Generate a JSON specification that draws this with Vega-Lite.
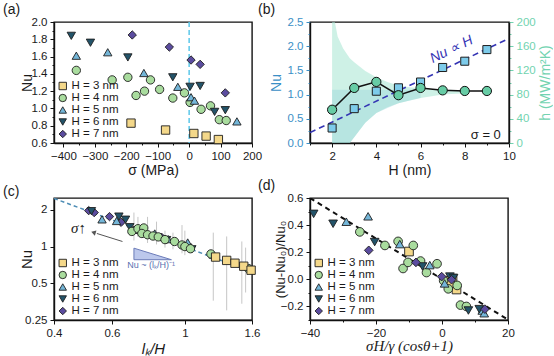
{
"$schema":"https://vega.github.io/schema/vega-lite/v6.json",
"background":"white",
"padding":{"left":2,"top":2,"right":0,"bottom":0},
"columns":2,
"spacing":{"row":55,"column":58},
"bounds":"flush",
"resolve":{"scale":{"color":"independent","shape":"independent"},"legend":{"color":"independent","shape":"independent"}},
"concat":[
{
 "width":198,"height":121,
 "title":{"text":"(a)","dx":-51,"offset":-1},
 "encoding":{"x":{"field":"sigma","type":"quantitative","scale":{"domain":[-430,200],"nice":false,"zero":false},
   "axis":{"title":"σ (MPa)","titlePadding":2,"values":[-400,-350,-300,-250,-200,-150,-100,-50,0,50,100,150,200],
   "labelExpr":"datum.value%100==0 ? format(datum.value,'d') : ''",
   "tickSize":{"condition":{"test":"datum.value%100==0","value":4},"value":2}}}},
 "layer":[
  {"data":{"values":[{"sigma":0}]},"mark":{"type":"rule","color":"#5cc8ea","strokeDash":[5,3],"strokeWidth":1.5},"encoding":{}},
  {"data":{"name":"a"},"mark":{"type":"point","filled":true,"size":70,"stroke":"#1e1e1e","strokeWidth":0.9,"opacity":1},
   "encoding":{
    "y":{"field":"Nu","type":"quantitative","scale":{"domain":[0.6,2.0],"nice":false,"zero":false},
      "axis":{"title":"Nu","values":[0.6,0.7,0.8,0.9,1.0,1.1,1.2,1.3,1.4,1.5,1.6,1.7,1.8,1.9,2.0],
      "labelExpr":"round(datum.value*10)%2==0 ? format(datum.value,'.1f') : ''",
      "tickSize":{"condition":{"test":"round(datum.value*10)%2==0","value":4},"value":2},
      "minExtent":20,"maxExtent":20,"titlePadding":0}},
    "color":{"field":"H","type":"nominal","scale":{"domain":["H = 3 nm","H = 4 nm","H = 5 nm","H = 6 nm","H = 7 nm"],"range":["#f4d88a","#a9dc9e","#74b6d8","#23546a","#5b4c9f"]},"legend":{"title":null}},
    "shape":{"field":"H","type":"nominal","scale":{"domain":["H = 3 nm","H = 4 nm","H = 5 nm","H = 6 nm","H = 7 nm"],"range":["square","circle","triangle-up","triangle-down","diamond"]},"legend":{"title":null}}
   }}
 ]
},
{
 "width":199,"height":121,
 "title":{"text":"(b)","dx":-52,"offset":-1},
 "encoding":{"x":{"field":"H","type":"quantitative","scale":{"domain":[1,10],"nice":false,"zero":false},
   "axis":{"title":"H (nm)","titlePadding":2,"values":[1,2,3,4,5,6,7,8,9,10],
   "labelExpr":"datum.value%2==0 ? ''+datum.value : ''",
   "tickSize":{"condition":{"test":"datum.value%2==0","value":4},"value":2}}}},
 "layer":[
  {
   "encoding":{"y":{"field":"Nu","type":"quantitative","scale":{"domain":[0,2.5],"nice":false,"zero":false},
     "axis":{"title":"Nu","titleColor":"#3b8fc6","labelColor":"#3b8fc6","tickColor":"#3b8fc6",
     "values":[0,0.25,0.5,0.75,1,1.25,1.5,1.75,2,2.25,2.5],
     "labelExpr":"round(datum.value*4)%2==0 ? format(datum.value,'.1f') : ''",
     "tickSize":{"condition":{"test":"round(datum.value*4)%2==0","value":4},"value":2},
     "minExtent":24,"maxExtent":24,"titlePadding":3}}},
   "layer":[
    {"data":{"name":"bandA"},"mark":{"type":"area","color":"#a6e6d2","opacity":0.55,"clip":true},"encoding":{"y2":{"field":"Nu2"}}},
    {"data":{"name":"bandB"},"mark":{"type":"area","color":"#8ccfd6","opacity":0.35,"clip":true},"encoding":{"y2":{"field":"Nu2"}}},
    {"data":{"name":"b_line"},"mark":{"type":"line","color":"#3434b4","strokeDash":[6,4],"strokeWidth":1.6,"clip":true},"encoding":{}},
    {"data":{"name":"b_nu"},"mark":{"type":"point","shape":"square","filled":true,"color":"#7dcbea","size":65,"stroke":"#1e1e1e","strokeWidth":1,"opacity":1},"encoding":{}},
    {"data":{"values":[{"H":7.4,"Nu":1.93,"label":"Nu ∝ H"}]},"mark":{"type":"text","color":"#3434b4","fontSize":14,"angle":334,"fontStyle":"italic"},"encoding":{"text":{"field":"label"}}},
    {"data":{"values":[{"H":8.95,"Nu":0.17,"label":"σ = 0"}]},"mark":{"type":"text","color":"#1a1a1a","fontSize":13},"encoding":{"text":{"field":"label"}}}
   ]
  },
  {
   "encoding":{"y":{"field":"h","type":"quantitative","scale":{"domain":[0,200],"nice":false,"zero":false},
     "axis":{"orient":"right","title":"h (MW/m²K)","titleColor":"#72d3b0","labelColor":"#72d3b0","tickColor":"#72d3b0",
     "values":[0,20,40,60,80,100,120,140,160,180,200],
     "labelExpr":"datum.value%40==0 ? ''+datum.value : ''",
     "tickSize":{"condition":{"test":"datum.value%40==0","value":4},"value":2},
     "titleAngle":270,"titleBaseline":"top","titlePadding":3}}},
   "layer":[
    {"data":{"name":"b_h"},"mark":{"type":"line","color":"#111","strokeWidth":1.5},"encoding":{}},
    {"data":{"name":"b_h"},"mark":{"type":"point","filled":true,"color":"#67cca5","size":85,"stroke":"#111","strokeWidth":1,"opacity":1},"encoding":{}}
   ]
  }
 ],
 "resolve":{"scale":{"y":"independent"}}
},
{
 "width":198,"height":122,
 "title":{"text":"(c)","dx":-51,"offset":-1},
 "encoding":{
  "x":{"field":"r","type":"quantitative","scale":{"type":"log","domain":[0.4,1.6],"nice":false},
    "axis":{"title":"lₖ/H","titleFontStyle":"italic","titleFontSize":15,"titlePadding":3,"values":[0.4,0.6,1,1.6],"labelExpr":"''+datum.value"}},
  "y":{"field":"Nu","type":"quantitative","scale":{"type":"log","domain":[0.25,2.5],"nice":false},
    "axis":{"title":"Nu","titleFontSize":15,"values":[0.25,0.5,1,2],"labelExpr":"''+datum.value","minExtent":20,"maxExtent":20,"titlePadding":0}}},
 "layer":[
  {"data":{"name":"c_err"},"mark":{"type":"rule","color":"#b8b8b8","strokeWidth":0.8},"encoding":{"y2":{"field":"Nu2"}}},
  {"data":{"name":"c_line"},"mark":{"type":"line","color":"#4d8db5","strokeDash":[4,3],"strokeWidth":1.5,"clip":true},"encoding":{}},
  {"data":{"name":"c_tri"},"mark":{"type":"area","fill":"#bcc8ec","stroke":"#6b7bb8","strokeWidth":1},"encoding":{"y2":{"field":"Nu2"}}},
  {"data":{"name":"c_arrow"},"mark":{"type":"rule","color":"#555","strokeWidth":1},"encoding":{"x2":{"field":"r2"},"y2":{"field":"Nu2"}}},
  {"data":{"name":"c_head"},"mark":{"type":"point","shape":"triangle","filled":true,"color":"#555","size":28,"angle":288,"strokeWidth":0,"opacity":1},"encoding":{}},
  {"data":{"values":[{"r":0.475,"Nu":1.42,"label":"σ↑"}]},"mark":{"type":"text","fontSize":15,"color":"#1a1a1a","font":"Liberation Serif","fontStyle":"italic"},"encoding":{"text":{"field":"label"}}},
  {"data":{"values":[{"r":0.79,"Nu":0.70,"label":"Nu ~ (lₖ/H)⁻¹"}]},"mark":{"type":"text","fontSize":9,"color":"#5a6fb0"},"encoding":{"text":{"field":"label"}}},
  {"data":{"name":"c"},"mark":{"type":"point","filled":true,"size":70,"stroke":"#1e1e1e","strokeWidth":0.9,"opacity":1},
   "encoding":{
    "color":{"field":"H","type":"nominal","scale":{"domain":["H = 3 nm","H = 4 nm","H = 5 nm","H = 6 nm","H = 7 nm"],"range":["#f4d88a","#a9dc9e","#74b6d8","#23546a","#5b4c9f"]},"legend":{"title":null}},
    "shape":{"field":"H","type":"nominal","scale":{"domain":["H = 3 nm","H = 4 nm","H = 5 nm","H = 6 nm","H = 7 nm"],"range":["square","circle","triangle-up","triangle-down","diamond"]},"legend":{"title":null}}
   }}
 ]
},
{
 "width":198,"height":122,
 "title":{"text":"(d)","dx":-52,"offset":-1},
 "encoding":{
  "x":{"field":"sx","type":"quantitative","scale":{"domain":[-40,20],"nice":false,"zero":false},
    "axis":{"title":"σH/γ (cosθ+1)","titleFont":"Liberation Serif","titleFontStyle":"italic","titleFontSize":15,"titlePadding":0,
    "values":[-40,-30,-20,-10,0,10,20],"labelExpr":"datum.value%20==0 ? format(datum.value,'d') : ''",
    "tickSize":{"condition":{"test":"datum.value%20==0","value":4},"value":2}}},
  "y":{"field":"dn","type":"quantitative","scale":{"domain":[-0.3,0.6],"nice":false,"zero":false},
    "axis":{"title":"(Nu-Nu₀)/Nu₀","titleFontSize":13,"values":[-0.3,-0.2,-0.1,0,0.1,0.2,0.3,0.4,0.5,0.6],
    "labelExpr":"round(datum.value*10)%2==0 ? format(datum.value,'.1f') : ''",
    "tickSize":{"condition":{"test":"round(datum.value*10)%2==0","value":4},"value":2},
    "minExtent":23,"maxExtent":23,"titlePadding":0}}},
 "layer":[
  {"data":{"name":"d_line"},"mark":{"type":"line","color":"#111","strokeDash":[5,4],"strokeWidth":2,"clip":true},"encoding":{}},
  {"data":{"name":"d"},"mark":{"type":"point","filled":true,"size":75,"stroke":"#1e1e1e","strokeWidth":0.9,"opacity":1},
   "encoding":{
    "color":{"field":"H","type":"nominal","scale":{"domain":["H = 3 nm","H = 4 nm","H = 5 nm","H = 6 nm","H = 7 nm"],"range":["#f4d88a","#a9dc9e","#74b6d8","#23546a","#5b4c9f"]},"legend":{"title":null}},
    "shape":{"field":"H","type":"nominal","scale":{"domain":["H = 3 nm","H = 4 nm","H = 5 nm","H = 6 nm","H = 7 nm"],"range":["square","circle","triangle-up","triangle-down","diamond"]},"legend":{"title":null}}
   }}
 ]
}
],
"datasets":{
"a":[
{"H":"H = 3 nm","sigma":-185,"Nu":0.83},{"H":"H = 3 nm","sigma":-75,"Nu":0.75},{"H":"H = 3 nm","sigma":15,"Nu":0.71},{"H":"H = 3 nm","sigma":54,"Nu":0.68},{"H":"H = 3 nm","sigma":93,"Nu":0.64},
{"H":"H = 4 nm","sigma":-359,"Nu":1.44},{"H":"H = 4 nm","sigma":-245,"Nu":1.33},{"H":"H = 4 nm","sigma":-195,"Nu":1.36},{"H":"H = 4 nm","sigma":-169,"Nu":1.15},{"H":"H = 4 nm","sigma":-142,"Nu":1.2},{"H":"H = 4 nm","sigma":-123,"Nu":1.33},{"H":"H = 4 nm","sigma":-94,"Nu":1.22},{"H":"H = 4 nm","sigma":-52,"Nu":1.12},{"H":"H = 4 nm","sigma":-15,"Nu":1.18},{"H":"H = 4 nm","sigma":3,"Nu":1.07},{"H":"H = 4 nm","sigma":38,"Nu":0.99},{"H":"H = 4 nm","sigma":68,"Nu":1.03},{"H":"H = 4 nm","sigma":96,"Nu":0.87},{"H":"H = 4 nm","sigma":118,"Nu":0.86},
{"H":"H = 5 nm","sigma":-359,"Nu":1.61},{"H":"H = 5 nm","sigma":-259,"Nu":1.65},{"H":"H = 5 nm","sigma":-144,"Nu":1.41},{"H":"H = 5 nm","sigma":-36,"Nu":1.25},{"H":"H = 5 nm","sigma":6,"Nu":1.13},{"H":"H = 5 nm","sigma":17,"Nu":1.09},{"H":"H = 5 nm","sigma":152,"Nu":0.85},
{"H":"H = 6 nm","sigma":-375,"Nu":1.84},{"H":"H = 6 nm","sigma":-314,"Nu":1.76},{"H":"H = 6 nm","sigma":-195,"Nu":1.59},{"H":"H = 6 nm","sigma":-52,"Nu":1.36},{"H":"H = 6 nm","sigma":3,"Nu":1.25},{"H":"H = 6 nm","sigma":35,"Nu":1.26},{"H":"H = 6 nm","sigma":81,"Nu":0.96},{"H":"H = 6 nm","sigma":115,"Nu":0.98},
{"H":"H = 7 nm","sigma":-181,"Nu":1.85},{"H":"H = 7 nm","sigma":-63,"Nu":1.71},{"H":"H = 7 nm","sigma":6,"Nu":1.56},{"H":"H = 7 nm","sigma":35,"Nu":1.51},{"H":"H = 7 nm","sigma":115,"Nu":1.18}
],
"b_nu":[{"H":2,"Nu":0.31},{"H":3,"Nu":0.71},{"H":4,"Nu":1.07},{"H":5,"Nu":1.14},{"H":6,"Nu":1.26},{"H":7,"Nu":1.56},{"H":8,"Nu":1.69},{"H":9,"Nu":1.93}],
"b_h":[{"H":2,"h":55},{"H":3,"h":91},{"H":4,"h":101},{"H":5,"h":79},{"H":6,"h":91},{"H":7,"h":87},{"H":8,"h":86},{"H":9,"h":86}],
"b_line":[{"H":1,"Nu":0.216},{"H":10,"Nu":2.16}],
"bandA":[{"H":2,"Nu":0,"Nu2":2.8},{"H":2.25,"Nu":0,"Nu2":2.2},{"H":2.5,"Nu":0,"Nu2":1.95},{"H":2.8,"Nu":0,"Nu2":1.75},{"H":3,"Nu":0.12,"Nu2":1.67},{"H":3.5,"Nu":0.42,"Nu2":1.49},{"H":4,"Nu":0.62,"Nu2":1.36},{"H":4.5,"Nu":0.74,"Nu2":1.26},{"H":5,"Nu":0.82,"Nu2":1.19},{"H":5.5,"Nu":0.88,"Nu2":1.15},{"H":6,"Nu":0.93,"Nu2":1.13},{"H":7,"Nu":1.0,"Nu2":1.1},{"H":8,"Nu":1.03,"Nu2":1.09}],
"bandB":[{"H":2,"Nu":0,"Nu2":1.1},{"H":2.8,"Nu":0,"Nu2":1.1},{"H":3,"Nu":0.12,"Nu2":1.1},{"H":3.5,"Nu":0.42,"Nu2":1.1},{"H":4,"Nu":0.62,"Nu2":1.1},{"H":5,"Nu":0.82,"Nu2":1.1},{"H":6,"Nu":0.93,"Nu2":1.1}],
"c":[
{"H":"H = 7 nm","r":0.51,"Nu":1.97},{"H":"H = 7 nm","r":0.53,"Nu":1.9},{"H":"H = 7 nm","r":0.59,"Nu":1.76},{"H":"H = 7 nm","r":0.64,"Nu":1.58},{"H":"H = 7 nm","r":0.85,"Nu":1.19},
{"H":"H = 6 nm","r":0.52,"Nu":1.95},{"H":"H = 6 nm","r":0.63,"Nu":1.76},{"H":"H = 6 nm","r":0.66,"Nu":1.66},{"H":"H = 6 nm","r":0.68,"Nu":1.44},{"H":"H = 6 nm","r":0.72,"Nu":1.36},{"H":"H = 6 nm","r":0.88,"Nu":1.13},{"H":"H = 6 nm","r":1.02,"Nu":0.98},{"H":"H = 6 nm","r":1.05,"Nu":0.95},
{"H":"H = 5 nm","r":0.56,"Nu":1.67},{"H":"H = 5 nm","r":0.62,"Nu":1.62},{"H":"H = 5 nm","r":0.7,"Nu":1.37},{"H":"H = 5 nm","r":0.81,"Nu":1.28},{"H":"H = 5 nm","r":0.89,"Nu":1.15},{"H":"H = 5 nm","r":1.02,"Nu":1.08},{"H":"H = 5 nm","r":1.22,"Nu":0.86},
{"H":"H = 4 nm","r":0.69,"Nu":1.33},{"H":"H = 4 nm","r":0.72,"Nu":1.4},{"H":"H = 4 nm","r":0.75,"Nu":1.42},{"H":"H = 4 nm","r":0.74,"Nu":1.28},{"H":"H = 4 nm","r":0.77,"Nu":1.25},{"H":"H = 4 nm","r":0.8,"Nu":1.22},{"H":"H = 4 nm","r":0.83,"Nu":1.2},{"H":"H = 4 nm","r":0.87,"Nu":1.14},{"H":"H = 4 nm","r":0.93,"Nu":1.1},{"H":"H = 4 nm","r":0.98,"Nu":1.03},{"H":"H = 4 nm","r":1.0,"Nu":1.0},{"H":"H = 4 nm","r":1.2,"Nu":0.87},{"H":"H = 4 nm","r":1.56,"Nu":0.66},{"H":"H = 4 nm","r":1.04,"Nu":0.96},
{"H":"H = 3 nm","r":1.24,"Nu":0.82},{"H":"H = 3 nm","r":1.34,"Nu":0.77},{"H":"H = 3 nm","r":1.42,"Nu":0.73},{"H":"H = 3 nm","r":1.51,"Nu":0.69},{"H":"H = 3 nm","r":1.59,"Nu":0.64}
],
"c_err":[{"r":0.7,"Nu":1.12,"Nu2":1.9},{"r":0.72,"Nu":1.2,"Nu2":1.75},{"r":0.77,"Nu":1.07,"Nu2":1.75},{"r":0.82,"Nu":1.04,"Nu2":1.6},{"r":0.87,"Nu":0.98,"Nu2":1.35},{"r":0.92,"Nu":0.95,"Nu2":1.3},{"r":0.98,"Nu":0.88,"Nu2":1.5},{"r":1.0,"Nu":0.85,"Nu2":1.35},{"r":1.22,"Nu":0.36,"Nu2":1.3},{"r":1.34,"Nu":0.3,"Nu2":1.21},{"r":1.49,"Nu":0.34,"Nu2":1.1},{"r":1.53,"Nu":0.42,"Nu2":0.98}],
"c_line":[{"r":0.4,"Nu":2.48},{"r":1.6,"Nu":0.62}],
"c_tri":[{"r":0.7,"Nu":0.97,"Nu2":0.78},{"r":0.91,"Nu":0.78,"Nu2":0.78}],
"c_arrow":[{"r":0.646,"Nu":1.1,"r2":0.54,"Nu2":1.28}],
"c_head":[{"r":0.53,"Nu":1.3}],
"d":[
{"H":"H = 3 nm","sx":-10,"dn":0.205},{"H":"H = 3 nm","sx":1.8,"dn":-0.01},{"H":"H = 3 nm","sx":3.2,"dn":0.005},{"H":"H = 3 nm","sx":4.4,"dn":-0.075},{"H":"H = 3 nm","sx":2.5,"dn":-0.03},
{"H":"H = 4 nm","sx":-24.9,"dn":0.35},{"H":"H = 4 nm","sx":-17.3,"dn":0.25},{"H":"H = 4 nm","sx":-13.3,"dn":0.28},{"H":"H = 4 nm","sx":-11.8,"dn":0.08},{"H":"H = 4 nm","sx":-10.3,"dn":0.125},{"H":"H = 4 nm","sx":-8.7,"dn":0.25},{"H":"H = 4 nm","sx":-6.5,"dn":0.135},{"H":"H = 4 nm","sx":-4.7,"dn":0.05},{"H":"H = 4 nm","sx":-1.5,"dn":0.115},{"H":"H = 4 nm","sx":0.5,"dn":-0.01},{"H":"H = 4 nm","sx":1.9,"dn":-0.07},{"H":"H = 4 nm","sx":4.6,"dn":-0.045},{"H":"H = 4 nm","sx":5.6,"dn":-0.19},{"H":"H = 4 nm","sx":7.4,"dn":-0.2},
{"H":"H = 5 nm","sx":-29,"dn":0.425},{"H":"H = 5 nm","sx":-22.4,"dn":0.465},{"H":"H = 5 nm","sx":-12.8,"dn":0.26},{"H":"H = 5 nm","sx":-3.7,"dn":0.105},{"H":"H = 5 nm","sx":0.8,"dn":-0.03},{"H":"H = 5 nm","sx":12.2,"dn":-0.23},{"H":"H = 5 nm","sx":12.8,"dn":-0.25},
{"H":"H = 6 nm","sx":-38.9,"dn":0.483},{"H":"H = 6 nm","sx":-33,"dn":0.41},{"H":"H = 6 nm","sx":-20.4,"dn":0.275},{"H":"H = 6 nm","sx":-5.9,"dn":0.095},{"H":"H = 6 nm","sx":2.4,"dn":0.02},{"H":"H = 6 nm","sx":3.5,"dn":0.01},{"H":"H = 6 nm","sx":8,"dn":-0.23},{"H":"H = 6 nm","sx":11.3,"dn":-0.22},
{"H":"H = 7 nm","sx":-22.2,"dn":0.214},{"H":"H = 7 nm","sx":-7.9,"dn":0.125},{"H":"H = 7 nm","sx":-0.1,"dn":0.02},{"H":"H = 7 nm","sx":2.9,"dn":-0.003},{"H":"H = 7 nm","sx":13,"dn":-0.22}
],
"d_line":[{"sx":-40,"dn":0.6},{"sx":19.5,"dn":-0.29}]
},
"config":{
 "font":"Liberation Sans",
 "view":{"stroke":"#111","strokeWidth":1.4},
 "axis":{"grid":false,"domainColor":"#111","domainWidth":1.4,"tickColor":"#111","tickWidth":1,"tickSize":4,"labelFontSize":11.5,"labelColor":"#1a1a1a","labelPadding":3,"labelFlush":false,"labelOverlap":false,"titleFontSize":14,"titleFontWeight":"normal","titleColor":"#1a1a1a","labelFont":"Liberation Sans"},
 "legend":{"orient":"bottom-left","offset":3,"padding":0,"rowPadding":0,"clipHeight":10,"labelFontSize":11.5,"labelLimit":0,"symbolSize":55,"symbolStrokeColor":"#1e1e1e","symbolStrokeWidth":0.9,"labelOffset":3,"labelColor":"#1a1a1a"},
 "title":{"fontSize":14,"fontWeight":"normal","anchor":"start","frame":"group","color":"#1a1a1a"}
}
}
